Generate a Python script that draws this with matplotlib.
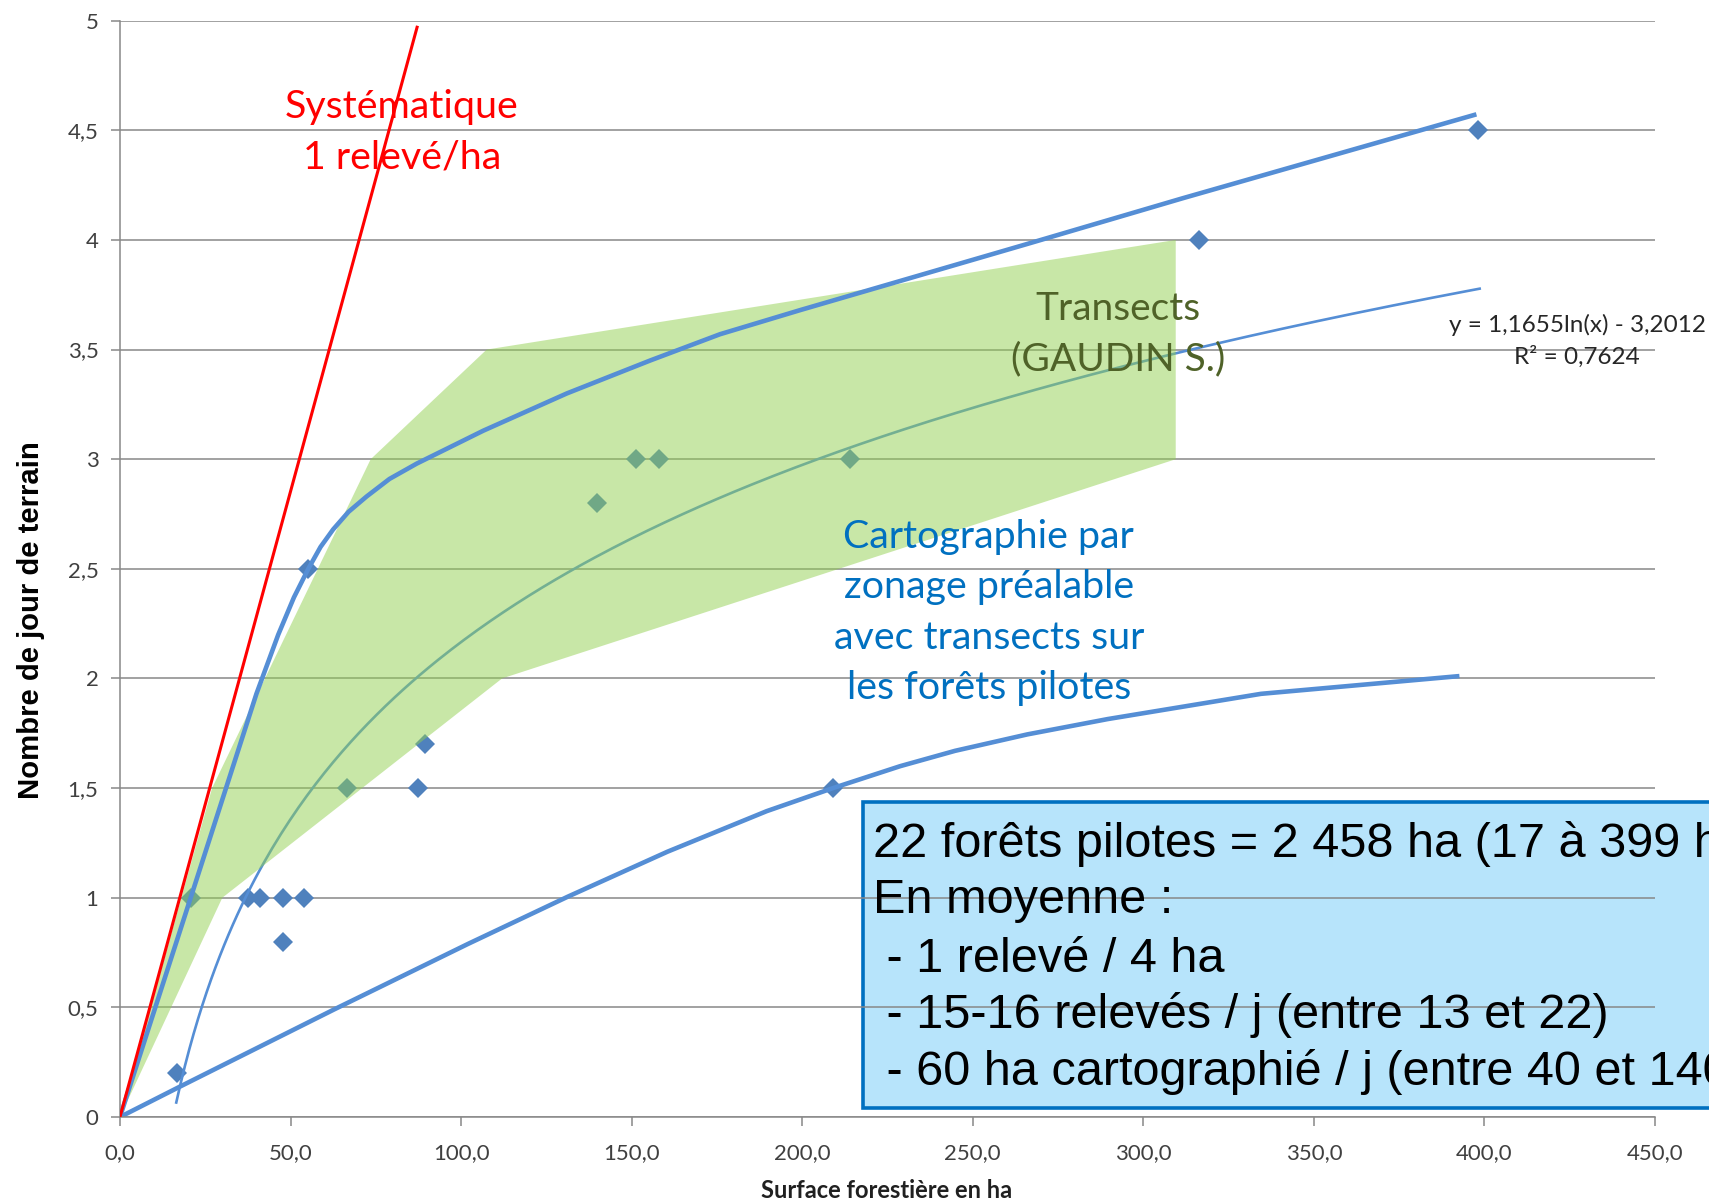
import numpy as np
import matplotlib
matplotlib.use("Agg")
import matplotlib.pyplot as plt
from matplotlib.patches import Polygon, Rectangle

# data points (surface in ha, days of field work)
surf = [16.6, 20.7, 37.5, 41.1, 47.8, 54.0, 47.8, 55.2, 66.5, 87.3, 89.4,
        139.7, 151.2, 158.1, 214.0, 208.9, 316.3, 398.2]
jours = [0.2, 1.0, 1.0, 1.0, 1.0, 1.0, 0.8, 2.5, 1.5, 1.5, 1.7,
         2.8, 3.0, 3.0, 3.0, 1.5, 4.0, 4.5]

# log trend line  y = a ln(x) + b
trend_a, trend_b = 1.1655, -3.2012
trend_x_range = (16.5, 398.6)

# systematic line (1 relevé/ha)
syst_x = [0, 87.1]
syst_y = [0, 4.97]

# upper envelope (hand drawn)
up_x = [0, 40, 46.4, 51.0, 55.2, 58.8, 62.5, 67.0, 72.3, 79.0, 87.0, 106.5, 131.0,
        155.4, 175.9, 199.4, 265.6, 311.5, 397]
up_y = [0, 1.93, 2.20, 2.37, 2.50, 2.60, 2.68, 2.76, 2.83, 2.91, 2.98, 3.13, 3.30,
        3.45, 3.57, 3.68, 3.98, 4.19, 4.57]

# lower envelope
low_x = [0, 17.5, 62.7, 102.1, 131.3, 160.5, 189.6, 209.0, 228.7, 244.8, 266.0,
         289.6, 334.5, 392]
low_y = [0, 0.138, 0.49, 0.79, 1.005, 1.21, 1.395, 1.5, 1.60, 1.67, 1.745,
         1.815, 1.93, 2.01]

# transects area (GAUDIN S.)
zone_x = [0, 27, 73.5, 107.5, 309.5, 309.5, 112, 30]
zone_y = [0, 1.5, 3.0, 3.5, 4.0, 3.0, 2.0, 1.0]

box_lines = ["22 forêts pilotes = 2 458 ha (17 à 399 ha)",
             "En moyenne :",
             " - 1 relevé / 4 ha",
             " - 15-16 relevés / j (entre 13 et 22)",
             " - 60 ha cartographié / j (entre 40 et 140 ha)"]

xticks = np.arange(0, 451, 50)
yticks = np.arange(0, 5.01, 0.5)

fig = plt.figure(figsize=(17.09, 12.02), dpi=100)
ax = fig.add_axes([0.0702, 0.0707, 0.8982, 0.9121])

blue_pt = '#4f81bd'
blue_ln = '#558ed5'
grey = '#888888'

ax.plot(surf, jours, 'D', color=blue_pt, ms=10.5, mew=0, zorder=2)

tx = np.linspace(trend_x_range[0], trend_x_range[1], 300)
ax.plot(tx, trend_a * np.log(tx) + trend_b, color=blue_ln, lw=1.9, zorder=2)

ax.add_patch(Polygon(list(zip(zone_x, zone_y)), closed=True, facecolor='#92d050',
                     edgecolor='none', alpha=0.5, zorder=2.2))

ax.plot(up_x, up_y, color=blue_ln, lw=3.3, zorder=2.5, solid_joinstyle='round')
ax.plot(low_x, low_y, color=blue_ln, lw=3.3, zorder=2.5, solid_joinstyle='round')
ax.plot(syst_x, syst_y, color='#ff0000', lw=2.2, zorder=2.6)

ax.set_xlim(0, 450)
ax.set_ylim(0, 5)
ax.set_xticks(xticks)
ax.set_yticks(yticks)
ax.set_xticklabels([f"{v:.1f}".replace('.', ',') for v in xticks])
ax.set_yticklabels([(f"{v:g}").replace('.', ',') for v in yticks])
ax.grid(axis='y', color=grey, lw=1.1)
for s in ['top', 'right']:
    ax.spines[s].set_visible(False)
for s in ['left', 'bottom']:
    ax.spines[s].set_color(grey)
    ax.spines[s].set_linewidth(1.1)
ax.tick_params(axis='both', color=grey, length=6.5, width=1.1, labelcolor='#404040')
ax.tick_params(axis='x', pad=12)
ax.tick_params(axis='y', pad=9)
for lab in ax.get_xticklabels() + ax.get_yticklabels():
    lab.set_fontfamily('Lato')
    lab.set_fontsize(16)

fig.text(0.0181, 1 - 620.5 / 1202, "Nombre de jour de terrain", rotation=90,
         ha='center', va='center', fontsize=21.1, fontweight='bold',
         family='Liberation Sans')
fig.text(887 / 1709, 1 - 1191 / 1202, "Surface forestière en ha", ha='center',
         va='center', fontsize=17, fontweight='bold', family='Lato', color='#202020')

ax.text(82.7, 4.49, "Systématique\n1 relevé/ha", color='#ff0000', ha='center',
        va='center', fontsize=28.4, family='Lato', linespacing=1.5, zorder=3)
ax.text(292.7, 3.57, "Transects\n(GAUDIN S.)", color='#4f6228', ha='center',
        va='center', fontsize=28, family='Lato', linespacing=1.5, zorder=3)
ax.text(254.7, 2.30, "Cartographie par\nzonage préalable\navec transects sur\nles forêts pilotes",
        color='#0070c0', ha='center', va='center', fontsize=28.4, family='Lato',
        linespacing=1.5, zorder=3)
ax.text(427.2, 3.54, "y = 1,1655ln(x) - 3,2012\nR² = 0,7624", color='#262626',
        ha='center', va='center', fontsize=17.5, family='Lato', linespacing=1.5,
        clip_on=False, zorder=3)

ax.add_patch(Rectangle((863 / 1709, 1 - 1108 / 1202), 0.6, (1108 - 802) / 1202,
                       transform=fig.transFigure, facecolor='#b7e4fb',
                       edgecolor='#0070c0', lw=2.6, clip_on=False, zorder=1))
baselines = [857.3, 913.3, 971.7, 1028.3, 1085]
for line, yb in zip(box_lines, baselines):
    fig.text(873 / 1709, 1 - yb / 1202, line, ha='left', va='baseline',
             fontsize=35, family='Liberation Sans', color='black')

fig.savefig('out.png', dpi=100)
